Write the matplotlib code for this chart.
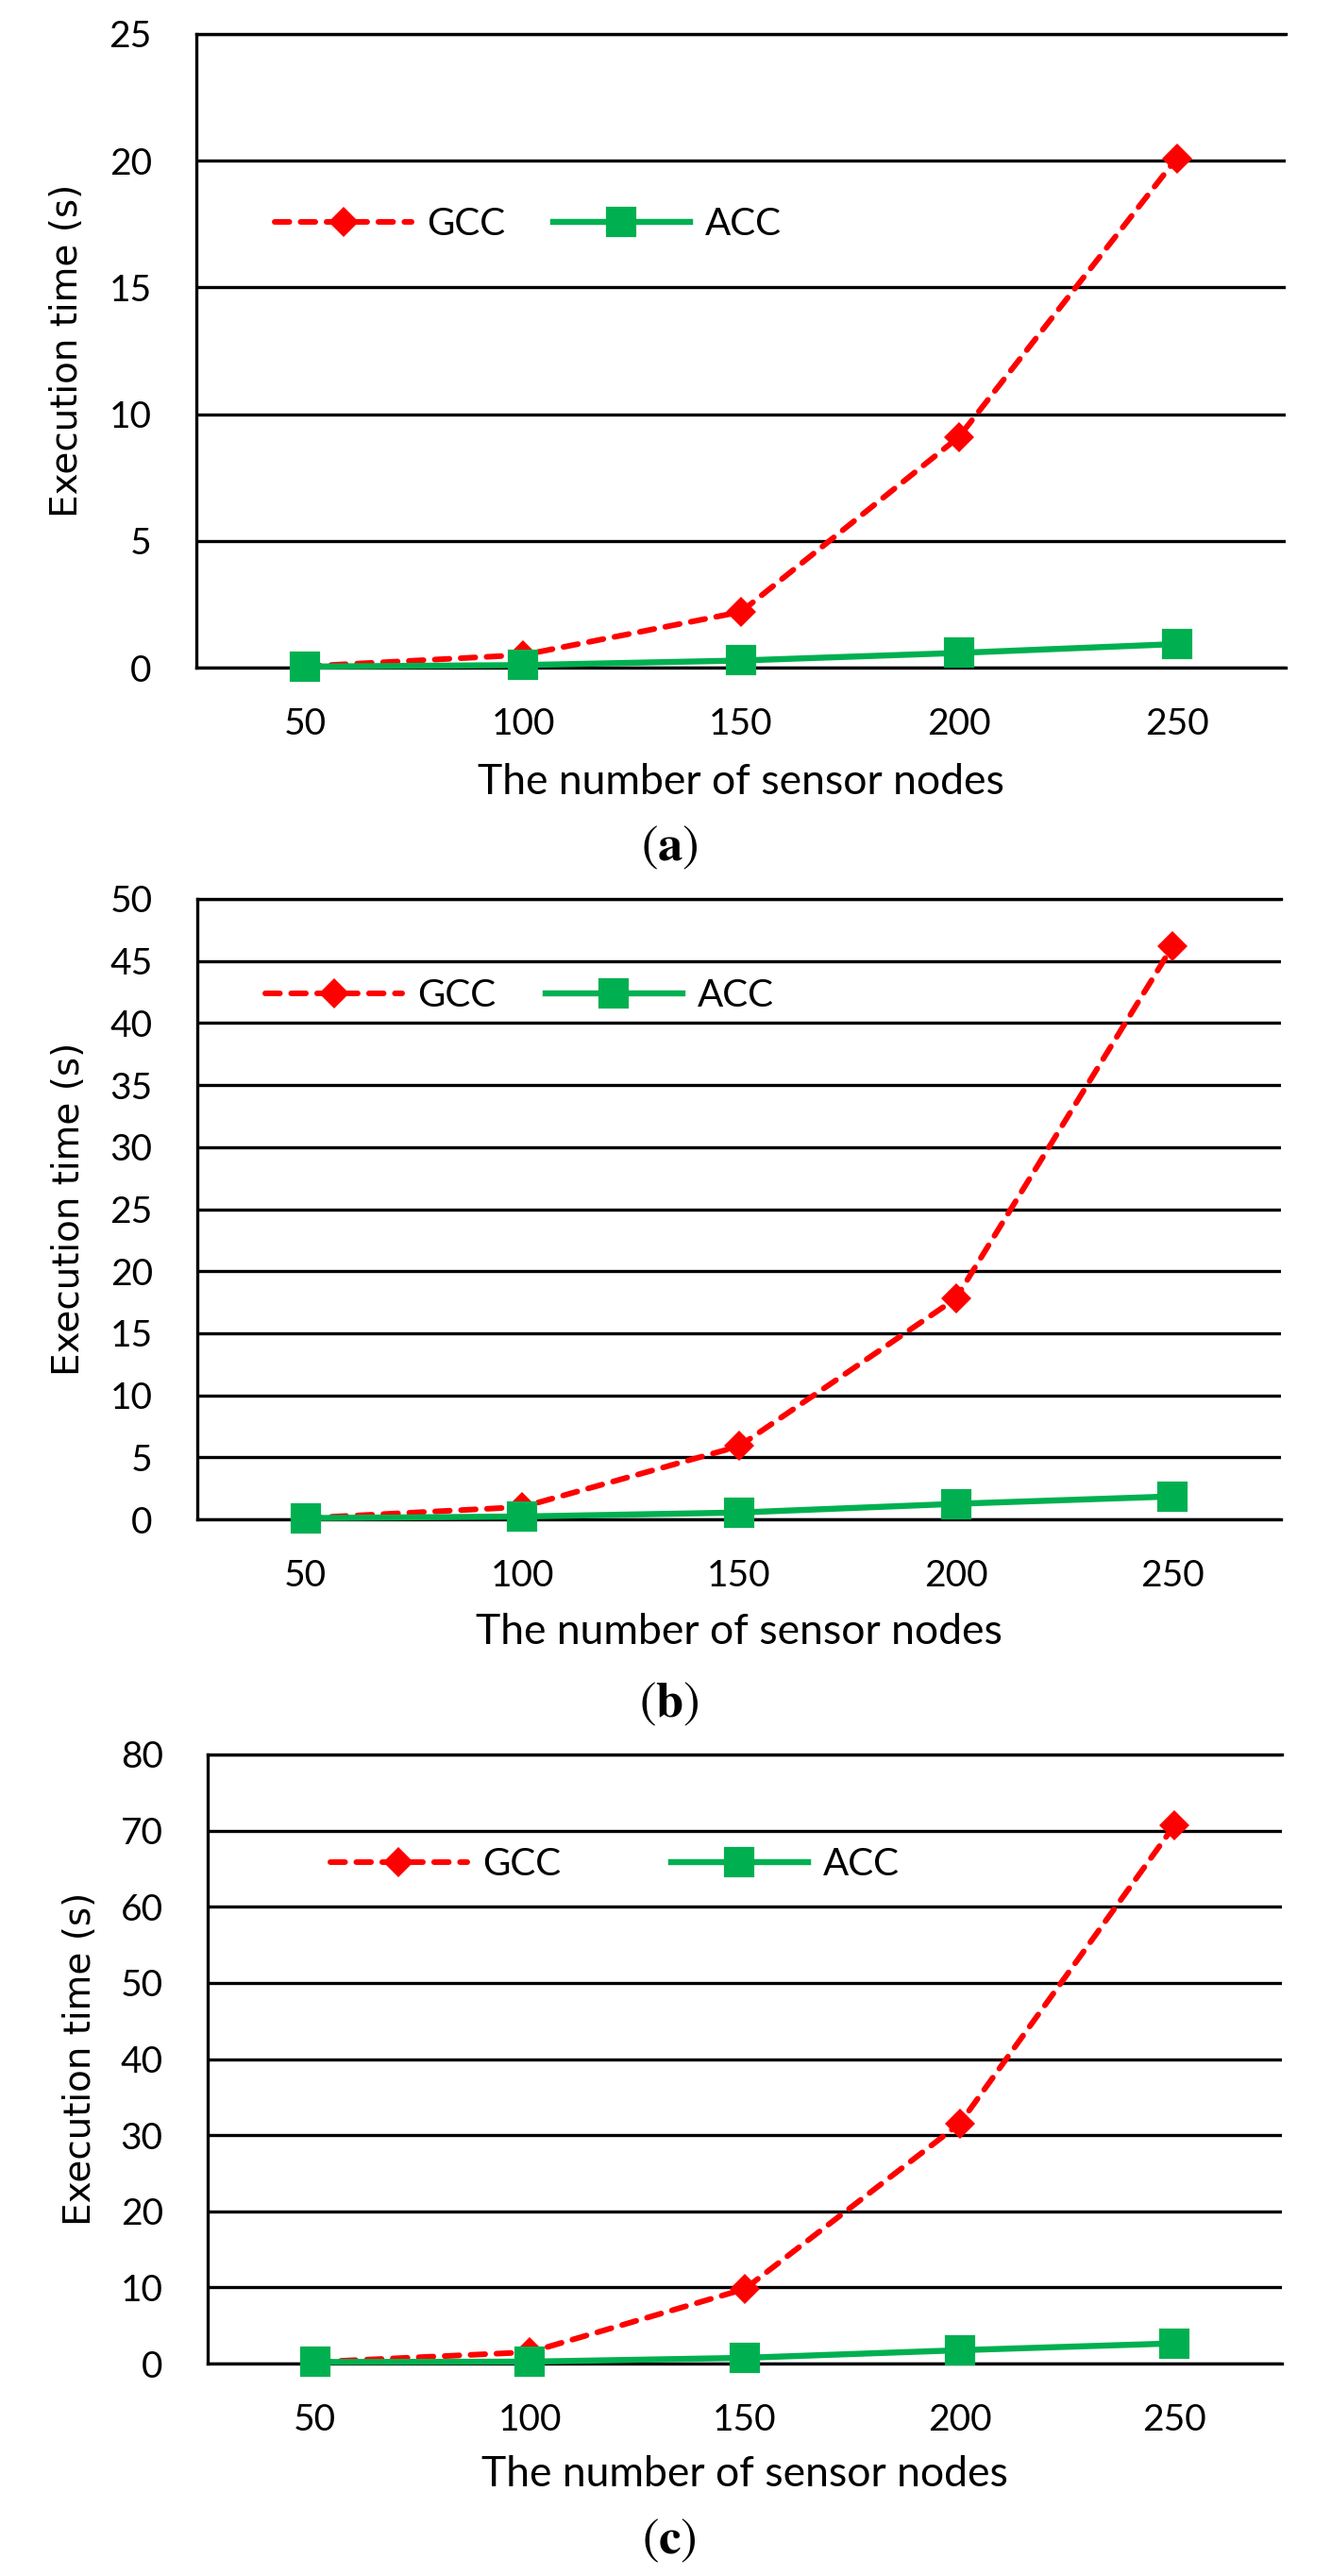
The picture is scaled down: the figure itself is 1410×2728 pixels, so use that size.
import numpy as np
from matplotlib import pyplot as plt

plt.rcParams['mathtext.fontset'] = 'stix'

nodes = ['50', '100', '150', '200', '250']

# execution time (s)
gcc_a = [0.05, 0.5, 2.2, 9.1, 20.1]
acc_a = [0.04, 0.1, 0.28, 0.58, 0.93]

gcc_b = [0.1, 1.0, 5.9, 17.8, 46.2]
acc_b = [0.1, 0.23, 0.55, 1.25, 1.85]

gcc_c = [0.2, 1.5, 9.8, 31.5, 70.7]
acc_c = [0.2, 0.25, 0.75, 1.75, 2.65]

ymax = [25, 50, 80]
ystep = [5, 5, 10]
tags = ['a', 'b', 'c']

red = '#FF0000'
green = '#00B050'

W, H = 1410, 2728
fig = plt.figure(figsize=(W / 100, H / 100), dpi=100)

# axes boxes in pixels: left, right, top, bottom
boxes = [(208, 1362, 36, 707), (209, 1357, 952, 1609), (220, 1358, 1858, 2503)]
# legend anchor (axes fraction) and column spacing
leg_pos = [(0.072, 0.70), (0.063, 0.844), (0.114, 0.819)]
leg_colsp = [1.25, 1.3, 2.9]
tag_y = [897, 1804, 2690]

series = [(gcc_a, acc_a), (gcc_b, acc_b), (gcc_c, acc_c)]

for k in range(3):
    l, r, t, b = boxes[k]
    ax = fig.add_axes([l / W, 1 - b / H, (r - l) / W, (b - t) / H])
    x = np.arange(len(nodes))
    gcc, acc = series[k]

    ax.plot(x, gcc, color=red, lw=4.3, linestyle=(0, (2.6, 2.0)),
            dash_capstyle='round', marker='D', ms=16, mew=0,
            clip_on=False, zorder=4, label='GCC')
    ax.plot(x, acc, color=green, lw=4.6, marker='s', ms=20, mew=3,
            mec=green, mfc=green, solid_joinstyle='round',
            clip_on=False, zorder=5, label='ACC')

    ax.set_xlim(-0.5, len(nodes) - 0.5)
    ax.set_ylim(0, ymax[k])
    ax.set_yticks(np.arange(0, ymax[k] + 1, ystep[k]))
    ax.set_xticks(x)
    ax.set_xticklabels(nodes)

    ax.grid(axis='y', color='black', lw=2.4)
    ax.set_axisbelow(True)
    for s in ['top', 'bottom', 'left']:
        ax.spines[s].set_color('black')
        ax.spines[s].set_linewidth(2.4)
    ax.spines['right'].set_visible(False)

    ax.tick_params(axis='both', length=0)
    ax.tick_params(axis='y', pad=34, labelsize=28)
    ax.tick_params(axis='x', pad=30, labelsize=28)
    for lab in ax.get_xticklabels() + ax.get_yticklabels():
        lab.set_fontfamily('Lato')

    ax.set_ylabel('Execution time (s)', fontsize=28, family='DejaVu Sans')
    ax.yaxis.set_label_coords(-0.102, 0.5)
    ax.set_xlabel('The number of sensor nodes', fontsize=32, family='Lato')
    ax.xaxis.set_label_coords(0.5, -0.15)

    leg = ax.legend(ncol=2, loc='center left', bbox_to_anchor=leg_pos[k],
                    frameon=False, borderpad=0, borderaxespad=0,
                    handlelength=3.6, handletextpad=0.4,
                    columnspacing=leg_colsp[k], numpoints=1,
                    prop={'family': 'Lato', 'size': 29})

    fig.text(0.503, 1 - tag_y[k] / H, r'$(\mathbf{%s})$' % tags[k],
             fontsize=38, ha='center', va='center')

fig.savefig('out.png', dpi=100)
